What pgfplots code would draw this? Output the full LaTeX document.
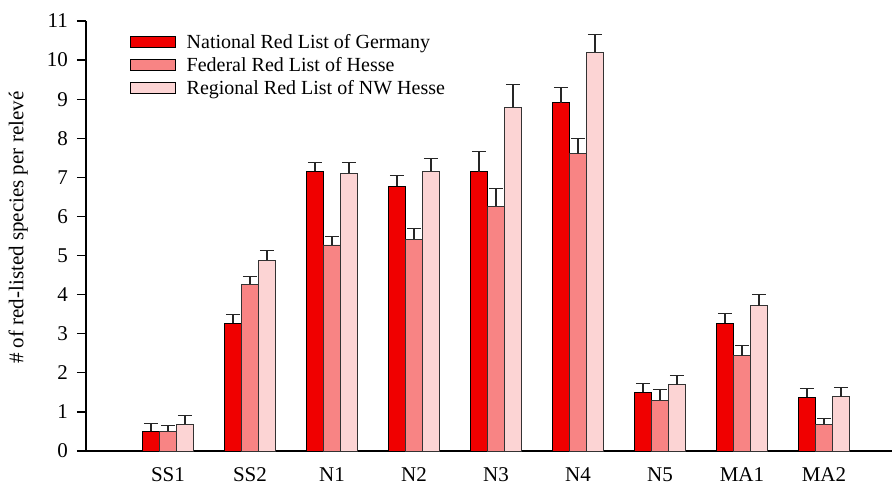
\documentclass[border=0pt]{standalone}
\usepackage{fontspec}
\setmainfont{Liberation Serif}
\usepackage{pgfplots}
\usepackage{pgfplotstable}
\pgfplotsset{compat=1.18}
\definecolor{cA}{RGB}{240,0,0}
\definecolor{cB}{RGB}{248,132,132}
\definecolor{cC}{RGB}{252,212,212}
\pgfplotstableread{
x a ae b be c ce
0 0.50 0.20 0.50 0.16 0.68 0.22
1 3.27 0.23 4.27 0.19 4.88 0.26
2 7.15 0.23 5.27 0.22 7.11 0.26
3 6.77 0.27 5.42 0.27 7.16 0.32
4 7.14 0.52 6.26 0.46 8.79 0.59
5 8.91 0.39 7.60 0.39 10.20 0.46
6 1.50 0.23 1.30 0.27 1.70 0.22
7 3.27 0.25 2.44 0.25 3.72 0.29
8 1.37 0.22 0.68 0.16 1.39 0.24
}\data
\begin{document}
\begin{tikzpicture}
\begin{axis}[
  at={(0pt,0pt)}, anchor=south west,
  scale only axis, width=806pt, height=430pt,
  xmin=-1, xmax=8.83, ymin=0, ymax=11,
  axis x line=bottom, axis y line=left,
  axis line style={-, line width=1.4pt, black},
  ybar=0pt, bar width=17pt,
  xtick=data,
  xticklabels={SS1,SS2,N1,N2,N3,N4,N5,MA1,MA2},
  x tick style={draw=none},
  ytick={0,1,...,11},
  tick align=outside,
  major tick length=9pt,
  y tick style={line width=1.2pt, black},
  tick label style={font=\fontsize{21}{24}\selectfont},
  yticklabel style={inner sep=1pt, xshift=-8pt},
  xticklabel style={anchor=north, yshift=-4pt},
  /pgf/number format/assume math mode=true,
  ylabel={\# of red-listed species per relevé},
  every axis y label/.style={at={(axis description cs:-0.084,0.519)}, rotate=90, anchor=center, font=\fontsize{21}{24}\selectfont},
  legend style={at={(0.0546,0.975)}, anchor=north west, draw=none, fill=none,
    row sep=3.5pt, inner sep=0pt, cells={anchor=west}, font=\fontsize{20}{23}\selectfont},
  legend image code/.code={\draw[#1, draw=black, line width=1pt] (0pt,-5.5pt) rectangle (45pt,5.5pt); \path[draw=none, fill=none] (54pt,0pt);},
  error bars/error bar style={line width=1.1pt, black!85},
  error bars/error mark options={rotate=90, mark size=7pt, line width=1.1pt, black!85},
  clip=false,
]
\addplot[fill=cA, draw=black, line width=0.9pt, error bars/.cd, y dir=plus, y explicit] table[x=x, y=a, y error=ae]{\data};
\addplot[fill=cB, draw=black!80, line width=0.9pt, error bars/.cd, y dir=plus, y explicit] table[x=x, y=b, y error=be]{\data};
\addplot[fill=cC, draw=black!80, line width=0.9pt, error bars/.cd, y dir=plus, y explicit] table[x=x, y=c, y error=ce]{\data};
\legend{National Red List of Germany, Federal Red List of Hesse, Regional Red List of NW Hesse}
\end{axis}
\pgfresetboundingbox
\useasboundingbox (-86pt,-34pt) rectangle (806pt,451pt);
\end{tikzpicture}
\end{document}
